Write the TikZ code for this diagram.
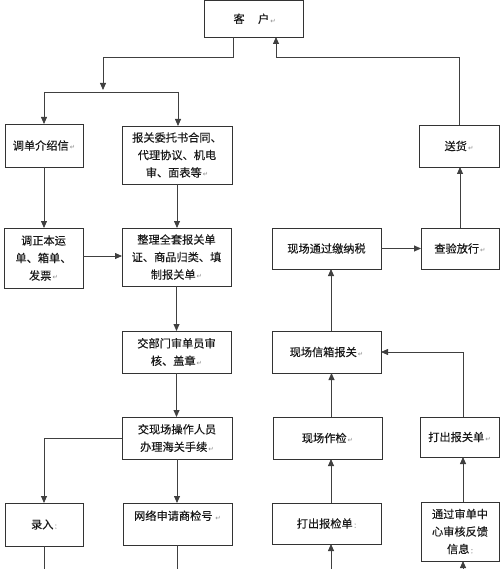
\documentclass[tikz,border=0pt]{standalone}
\usepackage{fontspec}
\newfontfamily\cjk[FakeBold=0.2]{Noto Sans CJK SC}
\newfontfamily\symfont{DejaVu Sans}
\usetikzlibrary{arrows.meta}
\newcommand\pmark{{\symfont\color{black!45}\fontsize{6.5}{6.5}\selectfont\,↵}}
\newcommand\pcolon{{\color{black!35}\fontsize{8}{8}\selectfont\,:}}
\begin{document}
\begin{tikzpicture}[x=1pt,y=-1pt,
  box/.style={draw=black!80, line width=0.8pt, rectangle, inner sep=0pt, outer sep=0pt,
    align=center, font=\cjk\fontsize{11.2}{17.5}\selectfont, text=black!90},
  conn/.style={draw=black!75, line width=0.8pt},
  arr/.style={conn, -{Triangle[length=7pt,width=6pt]}}]
\useasboundingbox[fill=white] (0,0) rectangle (500,569);
% boxes
\node[box, minimum width=99pt, minimum height=36.5pt] (kehu) at (253.5,18.75) {\hspace{0.2em}客\hspace{1.2em}户\pmark};
\node[box, minimum width=78pt, minimum height=43pt] (tiaodan) at (44,145.5) {调单介绍信\pmark};
\node[box, minimum width=110pt, minimum height=58pt] (baoguan) at (177,155) {报关委托书合同、\\代理协议、机电\\审、面表等\pmark};
\node[box, minimum width=80pt, minimum height=42pt] (songhuo) at (459,146) {送货\pmark};
\node[box, minimum width=79pt, minimum height=60pt] (tiaozheng) at (43.5,258) {调正本运\\单、箱单、\\发票\pmark};
\node[box, minimum width=109pt, minimum height=58pt] (zhengli) at (176.5,257) {整理全套报关单\\证、商品归类、填\\制报关单\pmark};
\node[box, minimum width=109pt, minimum height=42pt] (jiaobumen) at (176.5,352) {交部门审单员审\\核、盖章\pmark};
\node[box, minimum width=110pt, minimum height=42pt] (jiaoxianchang) at (177,438) {交现场操作人员\\办理海关手续\pmark};
\node[box, minimum width=78pt, minimum height=43pt] (luru) at (44,524.5) {录入\pcolon};
\node[box, minimum width=109pt, minimum height=42pt] (wangluo) at (177.5,524) {网络申请商检号\,\pmark\\\mbox{}};
\node[box, minimum width=109pt, minimum height=41pt] (nashui) at (326.5,248.5) {现场通过缴纳税};
\node[box, minimum width=78pt, minimum height=41pt] (chayan) at (460,248.5) {查验放行\pmark};
\node[box, minimum width=109pt, minimum height=42pt] (xinxiang) at (326.5,352) {现场信箱报关\pmark};
\node[box, minimum width=109pt, minimum height=42pt] (zuojian) at (327.5,438) {现场作检\pmark};
\node[box, minimum width=79pt, minimum height=40pt] (dachubaoguan) at (459.5,437) {打出报关单\pmark};
\node[box, minimum width=109pt, minimum height=41pt] (dachubaojian) at (326.5,523.5) {打出报检单\pcolon};
\node[box, minimum width=78pt, minimum height=59pt] (tongguo) at (460,531.5) {通过审单中\\心审核反馈\\信息\pcolon};
% free ends
\coordinate (k2) at (103,57);
\coordinate (k3) at (103,90);
\coordinate (h1) at (44,92);
\coordinate (h2) at (178,92);
\coordinate (s1) at (276,57);
\coordinate (b1) at (44,569);
\coordinate (b2) at (177.5,569);
\coordinate (b3) at (331,569);
\coordinate (b4) at (463,569);
% connectors
\draw[arr] ([xshift=-20.5pt]kehu.south) |- (k2) -- (k3);
\draw[conn] (h1) -- (h2);
\draw[arr] (h1) -- (tiaodan.north);
\draw[arr] (h2) -- (h2 |- baoguan.north);
\draw[arr] (songhuo.north) |- (s1) -- (s1 |- kehu.south);
\draw[arr] (tiaodan.south) -- (tiaodan.south |- tiaozheng.north);
\draw[arr] (baoguan.south) -- (baoguan.south |- zhengli.north);
\draw[arr] ([yshift=2pt]tiaozheng.east) -- ([yshift=2pt]tiaozheng.east -| zhengli.west);
\draw[arr] (zhengli.south) -- (jiaobumen.north);
\draw[arr] (jiaobumen.south) -- (jiaobumen.south |- jiaoxianchang.north);
\draw[arr] (jiaoxianchang.west) -| (luru.north);
\draw[arr] (jiaoxianchang.south) -- (jiaoxianchang.south |- wangluo.north);
\draw[conn] (luru.south) -- (b1);
\draw[conn] (wangluo.south) -- (b2);
\draw[arr] (nashui.east) -- (chayan.west);
\draw[arr] (chayan.north) -- (chayan.north |- songhuo.south);
\draw[arr] ([xshift=4.5pt]xinxiang.north) -- ([xshift=4.5pt]nashui.south);
\draw[arr] ([xshift=3.5pt]dachubaoguan.north) |- (xinxiang.east);
\draw[arr] ([xshift=4pt]zuojian.north) -- ([xshift=4pt]zuojian.north |- xinxiang.south);
\draw[arr] ([xshift=4.5pt]dachubaojian.north) -- ([xshift=4.5pt]dachubaojian.north |- zuojian.south);
\draw[arr] (b3) -- (b3 |- dachubaojian.south);
\draw[arr] ([xshift=3pt]tongguo.north) -- ([xshift=3pt]tongguo.north |- dachubaoguan.south);
\draw[arr] (b4) -- (b4 |- tongguo.south);
\end{tikzpicture}
\end{document}
